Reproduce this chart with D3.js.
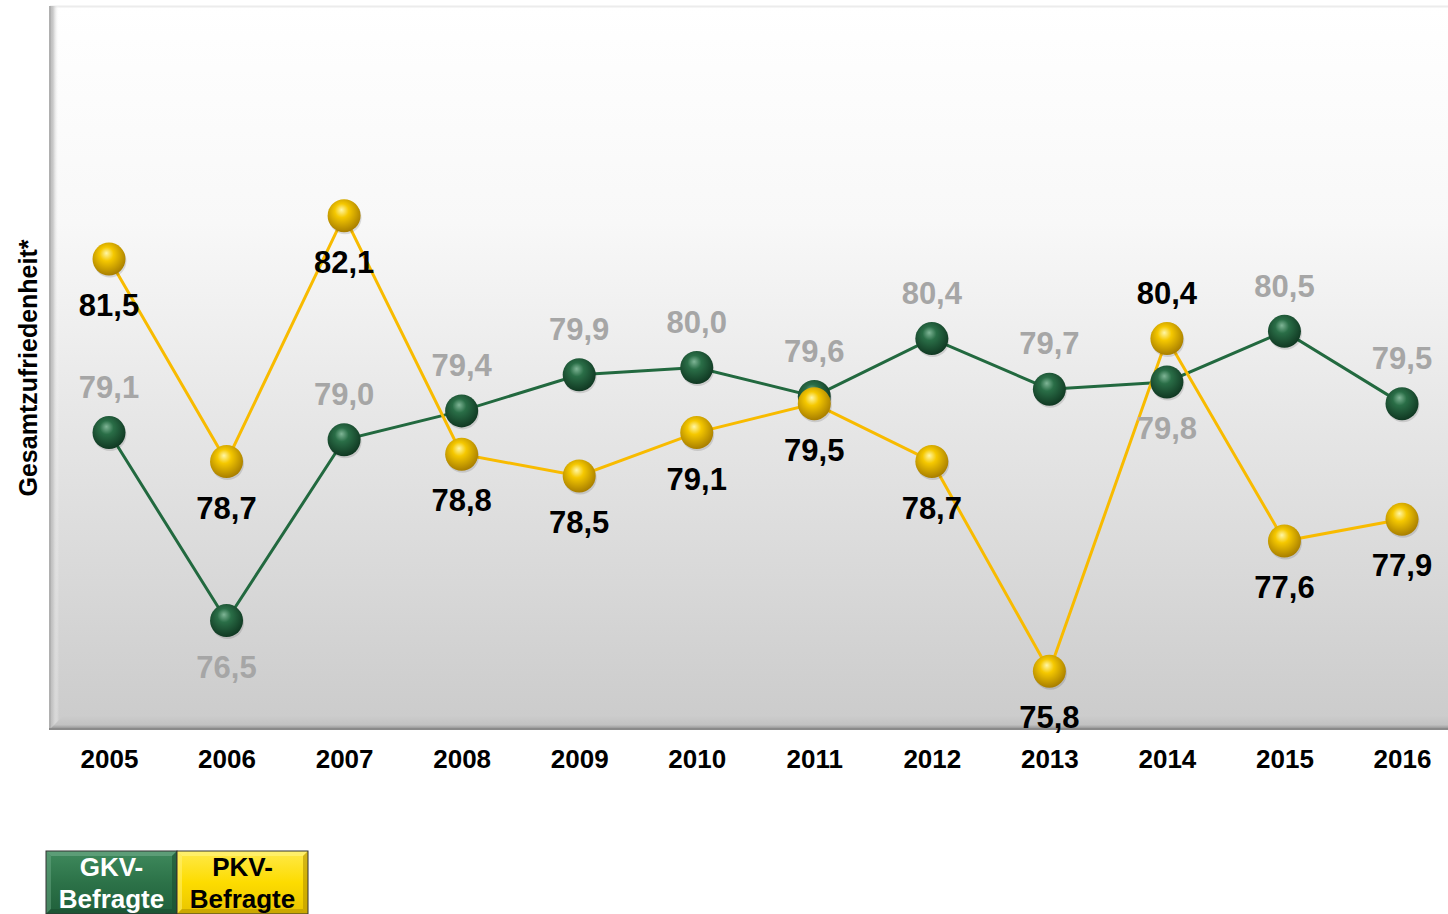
<!DOCTYPE html>
<html>
<head>
<meta charset="utf-8">
<script src="https://cdn.jsdelivr.net/npm/d3@7"></script>
<style>
  html, body { margin: 0; padding: 0; background: #fff; }
  svg { display: block; font-family: "Liberation Sans", Arial, sans-serif; }
</style>
</head>
<body>
<svg id="chart" width="1448" height="914"></svg>
<script>
// Gesamtzufriedenheit, GKV- vs. PKV-Befragte
const years = ["2005","2006","2007","2008","2009","2010","2011","2012","2013","2014","2015","2016"];
const gkvValues = [79.1, 76.5, 79.0, 79.4, 79.9, 80.0, 79.6, 80.4, 79.7, 79.8, 80.5, 79.5];
const pkvValues = [81.5, 78.7, 82.1, 78.8, 78.5, 79.1, 79.5, 78.7, 75.8, 80.4, 77.6, 77.9];
const seriesNames = ["GKV-Befragte", "PKV-Befragte"];
const yDomain = [75, 85];
const yTitle = "Gesamtzufriedenheit*";

// label side per point: -1 above, +1 below
const gkvLabelSide = [-1, 1, -1, -1, -1, -1, -1, -1, -1, 1, -1, -1];
const pkvLabelSide = [1, 1, 1, 1, 1, 1, 1, 1, 1, -1, 1, 1];

const fmt = v => v.toFixed(1).replace(".", ",");

const svg = d3.select("#chart");
const plot = { left: 50, top: 6, right: 1460, bottom: 729 };

const x = d3.scalePoint().domain(years).range([109, 1402]);
const y = d3.scaleLinear().domain(yDomain).range([plot.bottom, plot.top]);

const defs = svg.append("defs");

// back wall gradient
const wall = defs.append("linearGradient").attr("id", "wall").attr("x1", 0).attr("y1", 0).attr("x2", 0).attr("y2", 1);
wall.append("stop").attr("offset", "0%").attr("stop-color", "#ffffff");
wall.append("stop").attr("offset", "30%").attr("stop-color", "#f8f8f8");
wall.append("stop").attr("offset", "100%").attr("stop-color", "#cbcbcb");

const floor = defs.append("linearGradient").attr("id", "floor").attr("x1", 0).attr("y1", 0).attr("x2", 0).attr("y2", 1);
floor.append("stop").attr("offset", "0%").attr("stop-color", "#cdcdcd");
floor.append("stop").attr("offset", "70%").attr("stop-color", "#c2c2c2");
floor.append("stop").attr("offset", "100%").attr("stop-color", "#8f8f8f");

const side = defs.append("linearGradient").attr("id", "side").attr("x1", 0).attr("y1", 0).attr("x2", 1).attr("y2", 0);
side.append("stop").attr("offset", "0%").attr("stop-color", "#b5b5b5");
side.append("stop").attr("offset", "40%").attr("stop-color", "#c9c9c9");
side.append("stop").attr("offset", "100%").attr("stop-color", "#ffffff").attr("stop-opacity", 0);

// sphere gradients
function sphere(id, light, mid, dark) {
  const g = defs.append("radialGradient").attr("id", id)
    .attr("cx", "45%").attr("cy", "40%").attr("r", "60%").attr("fx", "42%").attr("fy", "32%");
  g.append("stop").attr("offset", "0%").attr("stop-color", light);
  g.append("stop").attr("offset", "35%").attr("stop-color", mid);
  g.append("stop").attr("offset", "100%").attr("stop-color", dark);
}
sphere("sphG", "#7fb596", "#2a6e47", "#103822");
sphere("sphY", "#fff6a6", "#f5c800", "#a87e00");

// legend gradients
const lgG = defs.append("linearGradient").attr("id", "lgG").attr("x1", 0).attr("y1", 0).attr("x2", 0).attr("y2", 1);
lgG.append("stop").attr("offset", "0%").attr("stop-color", "#3f8a5d");
lgG.append("stop").attr("offset", "50%").attr("stop-color", "#2c7248");
lgG.append("stop").attr("offset", "100%").attr("stop-color", "#20603b");
const lgY = defs.append("linearGradient").attr("id", "lgY").attr("x1", 0).attr("y1", 0).attr("x2", 0).attr("y2", 1);
lgY.append("stop").attr("offset", "0%").attr("stop-color", "#ffe94a");
lgY.append("stop").attr("offset", "50%").attr("stop-color", "#fddc00");
lgY.append("stop").attr("offset", "100%").attr("stop-color", "#e9c400");

// plot box
svg.append("rect").attr("x", plot.left).attr("y", plot.top)
  .attr("width", plot.right - plot.left).attr("height", plot.bottom - plot.top)
  .attr("fill", "url(#wall)");
svg.append("line").attr("x1", plot.left).attr("x2", plot.right)
  .attr("y1", plot.top + 0.5).attr("y2", plot.top + 0.5)
  .attr("stroke", "#ececec").attr("stroke-width", 2);
// left side wall
svg.append("rect").attr("x", plot.left - 1).attr("y", plot.top)
  .attr("width", 10).attr("height", plot.bottom - plot.top)
  .attr("fill", "url(#side)");
svg.append("line").attr("x1", plot.left).attr("x2", plot.left)
  .attr("y1", plot.top).attr("y2", plot.bottom)
  .attr("stroke", "#b0b0b0").attr("stroke-width", 2);
// floor edge
svg.append("path")
  .attr("d", `M${plot.left},${plot.bottom} L${plot.left + 14},${plot.bottom - 14} L${plot.right},${plot.bottom - 14} L${plot.right},${plot.bottom} Z`)
  .attr("fill", "url(#floor)");
svg.append("line").attr("x1", plot.left - 1).attr("x2", plot.right)
  .attr("y1", plot.bottom).attr("y2", plot.bottom)
  .attr("stroke", "#8a8a8a").attr("stroke-width", 2);

// x axis labels
const xAxis = d3.axisBottom(x).tickSize(0).tickPadding(0);
const gx = svg.append("g").attr("transform", `translate(0,${plot.bottom})`).call(xAxis);
gx.select(".domain").remove();
gx.selectAll("text")
  .attr("dy", null).attr("y", 39)
  .attr("font-size", 26).attr("font-weight", "bold").attr("fill", "#000")
  .attr("font-family", "'Liberation Sans', Arial, sans-serif");

// y axis title
svg.append("text")
  .attr("transform", `translate(37,368) rotate(-90)`)
  .attr("text-anchor", "middle")
  .attr("font-size", 25).attr("font-weight", "bold").attr("fill", "#000")
  .text(yTitle);

// lines
const line = d3.line().x((d, i) => x(years[i])).y(d => y(d));
svg.append("path").datum(gkvValues).attr("d", line)
  .attr("fill", "none").attr("stroke", "#22693f").attr("stroke-width", 3);
svg.append("path").datum(pkvValues).attr("d", line)
  .attr("fill", "none").attr("stroke", "#f8bb00").attr("stroke-width", 3);

// markers
function markers(values, fill) {
  const g = svg.append("g");
  g.selectAll("circle.shadow").data(values).join("circle")
    .attr("cx", (d, i) => x(years[i]) + 1).attr("cy", d => y(d) + 2)
    .attr("r", 16.5).attr("fill", "#000").attr("opacity", 0.12);
  g.selectAll("circle.ball").data(values).join("circle")
    .attr("cx", (d, i) => x(years[i])).attr("cy", d => y(d))
    .attr("r", 16.5).attr("fill", fill);
}
markers(gkvValues, "url(#sphG)");
markers(pkvValues, "url(#sphY)");

// data labels
function labels(values, sides, color) {
  svg.append("g").selectAll("text").data(values).join("text")
    .attr("x", (d, i) => x(years[i]))
    .attr("y", (d, i) => y(d) + sides[i] * 46)
    .attr("dy", "0.36em")
    .attr("text-anchor", "middle")
    .attr("font-size", 31).attr("font-weight", "bold")
    .attr("fill", color)
    .text(d => fmt(d));
}
labels(gkvValues, gkvLabelSide, "#a6a6a6");
labels(pkvValues, pkvLabelSide, "#000");

// legend
const legend = svg.append("g").attr("transform", "translate(46,851)");
const lw = 131, lh = 63;
const items = [
  { name: seriesNames[0], fill: "url(#lgG)", text: "#fff", dark: "#1a4f30", light: "#6aa783" },
  { name: seriesNames[1], fill: "url(#lgY)", text: "#000", dark: "#b59400", light: "#fff27a" }
];
items.forEach((it, i) => {
  const g = legend.append("g").attr("transform", `translate(${i * lw},0)`);
  g.append("rect").attr("width", lw).attr("height", lh).attr("fill", it.fill);
  // bevel edges
  g.append("path").attr("d", `M0,0 L${lw},0 L${lw - 5},5 L5,5 Z`).attr("fill", it.light).attr("opacity", 0.7);
  g.append("path").attr("d", `M0,0 L5,5 L5,${lh - 5} L0,${lh} Z`).attr("fill", it.light).attr("opacity", 0.5);
  g.append("path").attr("d", `M${lw},0 L${lw},${lh} L${lw - 5},${lh - 5} L${lw - 5},5 Z`).attr("fill", it.dark).attr("opacity", 0.6);
  g.append("path").attr("d", `M0,${lh} L${lw},${lh} L${lw - 5},${lh - 5} L5,${lh - 5} Z`).attr("fill", it.dark).attr("opacity", 0.6);
  g.append("rect").attr("width", lw).attr("height", lh).attr("fill", "none")
    .attr("stroke", "#333").attr("stroke-width", 1);
  const parts = it.name.split("-");
  const t = g.append("text").attr("text-anchor", "middle")
    .attr("font-size", 26).attr("font-weight", "bold").attr("fill", it.text);
  t.append("tspan").attr("x", lw / 2).attr("y", 25).text(parts[0] + "-");
  t.append("tspan").attr("x", lw / 2).attr("y", 57).text(parts[1]);
});
</script>
</body>
</html>
